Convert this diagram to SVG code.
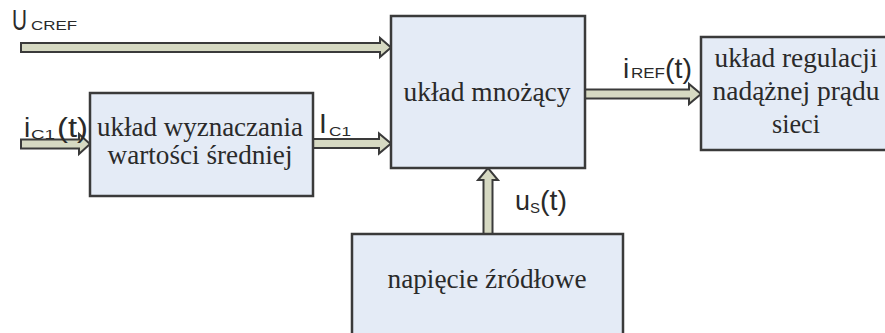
<svg xmlns="http://www.w3.org/2000/svg" width="885" height="333" viewBox="0 0 885 333">
<style>
.box{fill:#e4ebf6;stroke:#3a3a3a;stroke-width:2.5}
.arr{fill:#d6d9c2;stroke:#3a3a3a;stroke-width:2;stroke-linejoin:miter}
.serif{font-family:"Liberation Serif","Tinos","DejaVu Serif","Noto Serif","Times New Roman",serif;font-size:27px;fill:#2a2a2a;text-anchor:middle}
.sans{font-family:"Liberation Sans",Arial,sans-serif;fill:#2a2a2a}
</style>
<rect width="885" height="333" fill="#ffffff"/>
<g id="connectors">
  <polygon class="arr" points="21,43 380,43 380,38 391,47.5 380,57 380,52 21,52"/>
  <polygon class="arr" points="21,139.5 79,139.5 79,134 90,144 79,154 79,148.5 21,148.5"/>
  <polygon class="arr" points="313,139 379,139 379,133.5 391,143.5 379,153.5 379,148 313,148"/>
  <polygon class="arr" points="585,89.5 689,89.5 689,84 701,94 689,104 689,98.5 585,98.5"/>
  <polygon class="arr" points="483.5,234 483.5,180 478,180 488,168 498,180 492.5,180 492.5,234"/>
</g>
<g id="labels">
  <text class="sans" x="12" y="30" font-size="30" textLength="15" lengthAdjust="spacingAndGlyphs">U</text>
  <text class="sans" x="31" y="30" font-size="13" textLength="46" lengthAdjust="spacingAndGlyphs">CREF</text>
  <text class="sans" x="24" y="137" font-size="28">i</text>
  <text class="sans" x="31" y="139" font-size="12" textLength="24" lengthAdjust="spacingAndGlyphs">C1</text>
  <text class="sans" x="57" y="137" font-size="27" textLength="31" lengthAdjust="spacingAndGlyphs">(t)</text>
  <text class="sans" x="319" y="133" font-size="28">I</text>
  <text class="sans" x="329" y="136" font-size="12.5" textLength="22" lengthAdjust="spacingAndGlyphs">C1</text>
  <text class="sans" x="623" y="78" font-size="28">i</text>
  <text class="sans" x="631" y="78" font-size="14" textLength="34" lengthAdjust="spacingAndGlyphs">REF</text>
  <text class="sans" x="665" y="78" font-size="28" textLength="27" lengthAdjust="spacingAndGlyphs">(t)</text>
  <text class="sans" x="515" y="210" font-size="28" textLength="15" lengthAdjust="spacingAndGlyphs">u</text>
  <text class="sans" x="530" y="213" font-size="15" textLength="10" lengthAdjust="spacingAndGlyphs">S</text>
  <text class="sans" x="540" y="210" font-size="28" textLength="27" lengthAdjust="spacingAndGlyphs">(t)</text>
</g>
<g id="node-srednia">
  <rect class="box" x="90" y="93" width="223" height="103"/>
  <text class="serif" x="200" y="136" textLength="206" lengthAdjust="spacingAndGlyphs">układ wyznaczania</text>
  <text class="serif" x="200" y="164" textLength="185" lengthAdjust="spacingAndGlyphs">wartości średniej</text>
</g>
<g id="node-mnozacy">
  <rect class="box" x="391" y="16" width="194" height="152"/>
  <text class="serif" x="487" y="101" textLength="167" lengthAdjust="spacingAndGlyphs">układ mnożący</text>
</g>
<g id="node-regulacja">
  <rect class="box" x="701" y="37" width="195" height="113"/>
  <text class="serif" x="796" y="67" textLength="163" lengthAdjust="spacingAndGlyphs">układ regulacji</text>
  <text class="serif" x="796" y="100" textLength="167" lengthAdjust="spacingAndGlyphs">nadążnej prądu</text>
  <text class="serif" x="796" y="133" textLength="48" lengthAdjust="spacingAndGlyphs">sieci</text>
</g>
<g id="node-napiecie">
  <rect class="box" x="352" y="234" width="271" height="110"/>
  <text class="serif" x="487" y="288" textLength="199" lengthAdjust="spacingAndGlyphs">napięcie źródłowe</text>
</g>
</svg>
